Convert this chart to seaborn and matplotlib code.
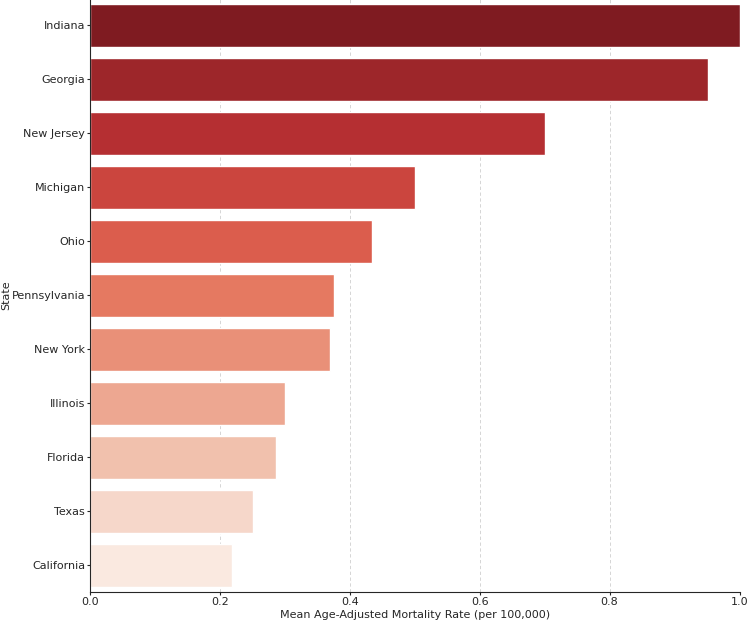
import matplotlib
matplotlib.use("Agg")
import matplotlib.pyplot as plt
import seaborn as sns
import pandas as pd

states = ["Indiana", "Georgia", "New Jersey", "Michigan", "Ohio", "Pennsylvania",
          "New York", "Illinois", "Florida", "Texas", "California"]
rates = [1.0, 0.951, 0.70, 0.50, 0.434, 0.375, 0.369, 0.30, 0.286, 0.251, 0.218]

df = pd.DataFrame({"State": states, "Rate": rates})

sns.set_style("ticks")
plt.rcParams["font.size"] = 8
fig = plt.figure(figsize=(7.5, 6.24), dpi=100)
ax = fig.add_axes([0.12, 0.051, 0.866, 0.952])
sns.barplot(data=df, x="Rate", y="State", hue="State", palette="Reds_r",
            legend=False, ax=ax)
ax.set_xlim(0, 1.0)
ax.grid(axis="x", linestyle=(0, (4, 3)), color="#cfcfcf", linewidth=0.6)
ax.set_axisbelow(True)
sns.despine(ax=ax)
ax.tick_params(axis="both", labelsize=8, length=2, width=0.8, pad=1.5)
ax.set_xlabel("Mean Age-Adjusted Mortality Rate (per 100,000)", fontsize=8, labelpad=2)
ax.set_ylabel("State", fontsize=8)
ax.yaxis.set_label_coords(-0.121, 0.5)
fig.savefig("out.png", dpi=100)
